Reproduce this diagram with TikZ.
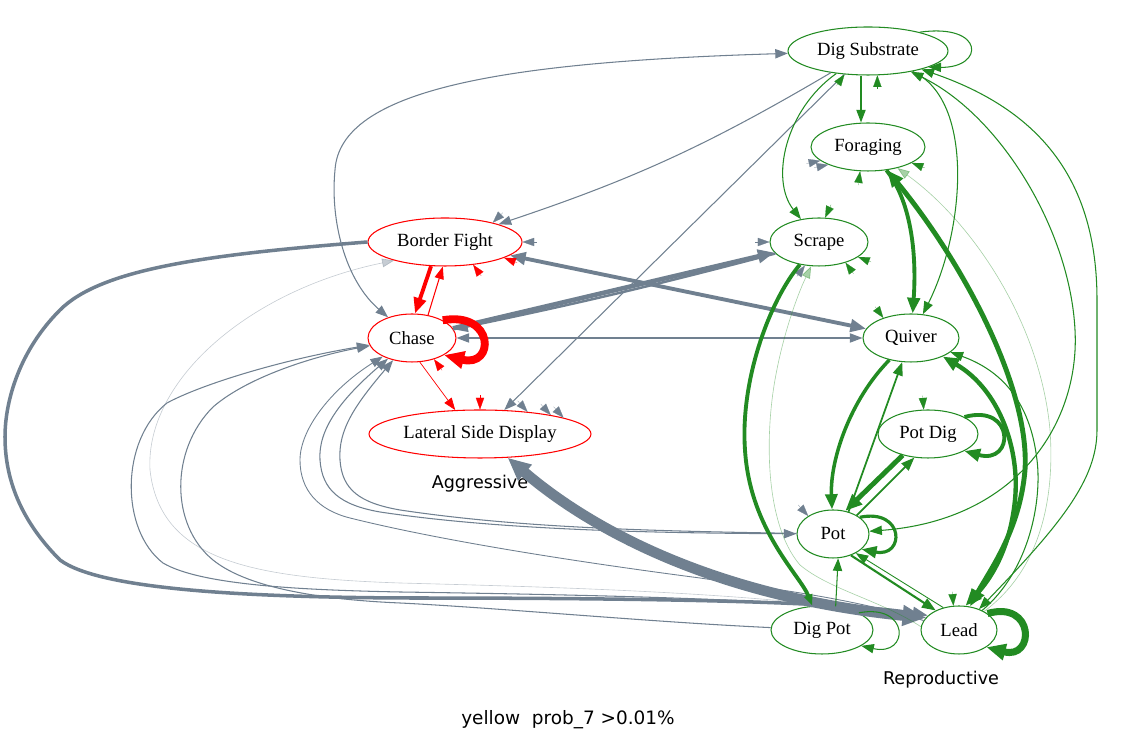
\documentclass[tikz,border=0pt]{standalone}
\usepackage{fontspec}
\setmainfont{Liberation Serif}
\newfontfamily\labelfont{DejaVu Sans}
\usepackage{tikz}
\usetikzlibrary{arrows.meta}
\usetikzlibrary{shapes.geometric,positioning}
\definecolor{slategray}{HTML}{708090}
\definecolor{forestgreen}{HTML}{228B22}
\tikzset{>={Triangle[length=6.5pt 1.1,width=4.6pt 1.1]}}

\begin{document}
\begin{tikzpicture}[x=0.02cm,y=0.02cm,
    behav/.style={ellipse,draw,line width=0.6pt,inner sep=0pt,minimum height=0.96cm,
      font=\fontsize{10.6}{12}\selectfont},
    aggr/.style={behav,draw=red},
    repr/.style={behav,draw=forestgreen},
    gedge/.style={draw=slategray,line width=0.6pt},
    redge/.style={draw=red,line width=0.6pt},
    fedge/.style={draw=forestgreen,line width=0.6pt},
    faint/.style={line width=0.35pt,opacity=0.4},
    stub/.style={line width=0.1pt},
    grouplabel/.style={font=\labelfont\fontsize{10}{12}\selectfont}]
    \useasboundingbox (0,0) rectangle (1137,743);

    \node[repr,minimum width=3.2cm] (ds) at (868,692) {Dig Substrate};
    \node[repr,minimum width=2.28cm] (forag) at (868,596) {Foraging};
    \node[repr,minimum width=1.96cm] (scrape) at (819,501) {Scrape};
    \node[repr,minimum width=1.92cm] (quiver) at (911,405) {Quiver};
    \node[repr,minimum width=2cm] (potdig) at (928,309) {Pot Dig};
    \node[repr,minimum width=1.44cm] (pot) at (833,209) {Pot};
    \node[repr,minimum width=2.04cm] (digpot) at (822,113) {Dig Pot};
    \node[repr,minimum width=1.52cm] (lead) at (959,113) {Lead};
    \node[aggr,minimum width=3.08cm] (bfight) at (445,501) {Border Fight};
    \node[aggr,minimum width=1.76cm] (chase) at (412,405) {Chase};
    \node[aggr,minimum width=4.44cm] (lsd) at (480,309) {Lateral Side Display};
    \node[grouplabel] (aggrlab) at (480,259) {Aggressive};
    \node[grouplabel] (reprlab) at (941,63) {Reproductive};
    \node[grouplabel,font=\labelfont\fontsize{10.5}{12}\selectfont] (title) at (568,23) {yellow\ \ prob\_7 >0.01\%};

    \path[->] (ds) edge[gedge,bend left=6] (bfight);
    \draw[gedge,<->] (chase) .. controls (345,463) and (330,523) .. (335,573)
      .. controls (340,653) and (500,681) .. (ds);
    \path[->] (ds) edge[gedge] (lsd);
    \path[->] (chase) edge[gedge,line width=2.6pt] (scrape);
    \path[->] (scrape) edge[gedge,line width=1.4pt,bend left=1.5] (chase);
    \path[<->] (bfight) edge[gedge,line width=2.2pt] (quiver);
    \path[<->] (chase) edge[gedge] (quiver);
    \draw[gedge,<->,line width=6pt] (lsd) .. controls (580,223) and (700,148) .. (lead.160);
    \draw[gedge,->,line width=2pt] (bfight.west) .. controls (200,488) and (100,473) .. (60,433)
      .. controls (20,393) and (5,343) .. (5,306)
      .. controls (5,253) and (30,213) .. (60,183)
      .. controls (100,153) and (250,146) .. (400,145)
      .. controls (700,145) and (850,140) .. (lead.155);
    \draw[gedge,faint,<-] (bfight.200) .. controls (250,453) and (145,363) .. (150,273)
      .. controls (160,183) and (250,165) .. (400,160)
      .. controls (550,156) and (800,150) .. (lead.165);
    \draw[gedge,<-] (chase) .. controls (280,383) and (200,358) .. (167,340)
      .. controls (120,303) and (120,213) .. (163,180)
      .. controls (200,158) and (300,153) .. (400,151)
      .. controls (600,148) and (850,143) .. (lead.160);
    \draw[gedge,->] (digpot) .. controls (650,121) and (500,135) .. (400,140)
      .. controls (330,143) and (250,153) .. (213,183)
      .. controls (170,218) and (170,293) .. (213,336)
      .. controls (250,368) and (320,388) .. (chase);
    \draw[gedge,->,line width=0.5pt] (lead.165) .. controls (850,145) and (780,153) .. (700,165)
      .. controls (600,178) and (450,200) .. (350,225)
      .. controls (318,233) and (300,253) .. (300,283)
      .. controls (300,313) and (330,353) .. (chase);
    \draw[gedge,<->] (chase) .. controls (340,343) and (318,313) .. (320,283)
      .. controls (322,253) and (340,238) .. (380,231)
      .. controls (500,213) and (650,210) .. (pot);
    \draw[gedge,->] (pot) .. controls (650,212) and (520,215) .. (400,233)
      .. controls (360,240) and (342,253) .. (340,283)
      .. controls (338,313) and (355,338) .. (chase);
    \draw[gedge,stub,<-] (bfight.22) -- ++(10,10);
    \draw[gedge,stub,<-] (bfight.east) -- ++(14,0);
    \draw[gedge,stub,<-] (scrape.west) -- ++(-14,0);
    \draw[gedge,stub,<-] (forag.196) -- ++(-14,-3);
    \draw[gedge,stub,<-] (forag.204) -- ++(-14,-3);
    \draw[gedge,stub,<-] (pot.144) -- ++(-10,11);
    \draw[gedge,stub,<-] (lsd.25) -- ++(-10,11);
    \draw[gedge,stub,<-] (lsd.15) -- ++(-10,11);
    \draw[gedge,stub,<-] (lsd.11) -- ++(-10,11);
    \draw[gedge,stub,<-] (scrape.239) -- ++(-8,-11);

    \path[->] (bfight.240) edge[redge,line width=2.2pt] (chase.83);
    \path[->] (chase.55) edge[redge] (bfight.265);
    \draw[redge,->,line width=4.5pt] (chase.30) .. controls (495,432) and (495,375) .. (chase.-28);
    \path[->] (chase.-72) edge[redge,line width=0.4pt] (lsd.136);
    \draw[redge,stub,<-] (lsd.north) -- ++(0,14);
    \draw[redge,stub,<-] (bfight.-39) -- ++(8,-11);
    \draw[redge,stub,<-] (bfight.-15) -- ++(13,-5);
    \draw[redge,stub,<-] (chase.-44) -- ++(8,-11);

    \path[->] ([xshift=-0.14cm]ds.south) edge[fedge] ([xshift=-0.14cm]forag.north);
    \draw[fedge,->] (ds) .. controls (785,633) and (770,563) .. (scrape);
    \draw[fedge,->] (ds) .. controls (975,643) and (965,513) .. (quiver);
    \draw[fedge,<->] (ds) .. controls (1000,628) and (1070,513) .. (1075,413)
      .. controls (1080,323) and (1020,223) .. (pot);
    \draw[fedge,<->] (ds) .. controls (1040,633) and (1097,563) .. (1097,443) -- (1097,313)
      .. controls (1097,263) and (1060,218) .. (lead);
    \draw[fedge,->,line width=2.2pt] (forag) .. controls (910,543) and (917,493) .. (quiver);
    \draw[fedge,<->,line width=2.8pt] (forag) .. controls (965,478) and (1030,353) .. (1025,273)
      .. controls (1020,213) and (990,173) .. (lead.65);
    \draw[fedge,faint,<-] (forag) .. controls (970,523) and (1040,423) .. (1050,313)
      .. controls (1055,243) and (1040,173) .. (lead);
    \draw[fedge,<->,line width=2.5pt] (quiver) .. controls (1000,353) and (1020,293) .. (1015,243)
      .. controls (1010,193) and (990,163) .. (lead.75);
    \draw[fedge,<-] (quiver) .. controls (1000,373) and (1030,343) .. (1037,283)
      .. controls (1042,243) and (1030,173) .. (lead);
    \draw[fedge,->,line width=2pt] (quiver) .. controls (850,343) and (830,283) .. (pot);
    \path[->] (pot.55) edge[fedge,line width=1pt] (quiver.250);
    \path[->] (potdig.220) edge[fedge,line width=2.8pt] (pot.62);
    \path[->] (pot.38) edge[fedge,line width=1pt] (potdig.240);
    \draw[fedge,->,line width=2.2pt] (potdig.25) .. controls (1015,340) and (1015,278) .. (potdig.-25);
    \draw[fedge,->,line width=1.8pt] (pot.32) .. controls (905,235) and (905,185) .. (pot.-28);
    \path[->] (pot.-50) edge[fedge,line width=1.2pt] (lead.140);
    \path[->] (lead.125) edge[fedge,line width=0.5pt] (pot.-40);
    \path[->] (digpot.60) edge[fedge] (pot.-78);
    \draw[fedge,-{Triangle[length=6.5pt,width=4.6pt]},line width=2.2pt] (scrape) .. controls (770,443) and (740,363) .. (745,293)
      .. controls (750,213) and (800,168) .. (digpot);
    \draw[fedge,faint,->] (lead.175) .. controls (880,143) and (830,153) .. (800,178)
      .. controls (770,213) and (765,283) .. (772,343)
      .. controls (778,393) and (795,443) .. (scrape.252);
    \draw[fedge,->] (digpot.25) .. controls (910,140) and (910,86) .. (digpot.-22);
    \draw[fedge,->,line width=4pt] (lead.30) .. controls (1035,143) and (1035,83) .. (lead.-32);
    \draw[fedge,->] (ds.20) .. controls (985,720) and (985,675) .. (ds.-15);
    \draw[fedge,stub,<-] (ds.225) -- ++(-8,-11);
    \draw[fedge,stub,<-] (ds.-69) -- ++(0,-14);
    \draw[fedge,stub,<-] (forag.252) -- ++(-2,-14);
    \draw[fedge,stub,<-] (forag.-20) -- ++(13,-5);
    \draw[fedge,stub,<-] (scrape.76) -- ++(6,13);
    \draw[fedge,stub,<-] (scrape.-38) -- ++(8,-11);
    \draw[fedge,stub,<-] (scrape.-21) -- ++(13,-5);
    \draw[fedge,stub,<-] (quiver.144) -- ++(-8,11);
    \draw[fedge,stub,<-] (potdig.100) -- ++(-1,14);
    \draw[fedge,stub,<-] (lead.103) -- ++(-1,14);
\end{tikzpicture}
\end{document}
